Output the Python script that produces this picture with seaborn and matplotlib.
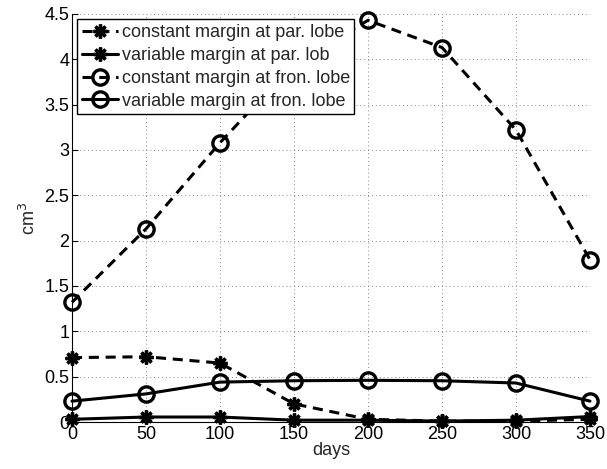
import matplotlib
matplotlib.use("Agg")
import matplotlib.pyplot as plt
import seaborn as sns
import pandas as pd

days = [0, 50, 100, 150, 200, 250, 300, 350]
const_par = [0.71, 0.72, 0.65, 0.20, 0.03, 0.01, 0.01, 0.03]
var_par = [0.03, 0.055, 0.055, 0.02, 0.02, 0.01, 0.02, 0.06]
const_fron = [1.32, 2.13, 3.08, 3.95, 4.43, 4.13, 3.22, 1.79]
var_fron = [0.23, 0.31, 0.44, 0.455, 0.46, 0.455, 0.43, 0.23]
labels = ["constant margin at par. lobe", "variable margin at par. lob",
          "constant margin at fron. lobe", "variable margin at fron. lobe"]
xticks = [0, 50, 100, 150, 200, 250, 300, 350]
yticks = [0, 0.5, 1, 1.5, 2, 2.5, 3, 3.5, 4, 4.5]

sns.set_style("white")
plt.rcParams['font.family'] = ['Liberation Sans', 'DejaVu Sans']

fig = plt.figure(figsize=(6.07, 4.69), dpi=100)
ax = fig.add_axes([0.1186, 0.1002, 0.8534, 0.870])

ast = (8, 2, 0)
specs = [
    (const_par, (0, (3.3, 2.2)), ast, labels[0]),
    (var_par, '-', ast, labels[1]),
    (const_fron, (0, (3.3, 2.2)), 'o', labels[2]),
    (var_fron, '-', 'o', labels[3]),
]
for vals, ls, mk, lab in specs:
    df = pd.DataFrame({"days": days, "v": vals})
    sns.lineplot(data=df, x="days", y="v", ax=ax, color="black", linestyle=ls,
                 linewidth=2.2, marker=mk, markersize=11 if mk == 'o' else 10,
                 markerfacecolor='none' if mk == 'o' else 'black',
                 markeredgecolor='black', markeredgewidth=2.4,
                 label=lab, clip_on=False, zorder=3)

ax.set_xlim(0, 350)
ax.set_ylim(0, 4.5)
ax.set_xticks(xticks)
ax.set_xticklabels([str(t) for t in xticks])
ax.set_yticks(yticks)
ax.set_yticklabels(['0', '0.5', '1', '1.5', '2', '2.5', '3', '3.5', '4', '4.5'])
ax.tick_params(direction='in', length=4, width=0.8, labelsize=13, pad=2,
               colors='black', left=True, bottom=True)
ax.tick_params(axis='x', pad=3)
ax.grid(True, linestyle=(0, (1, 3)), color='#888888', linewidth=0.7)
for s in ['top', 'right']:
    ax.spines[s].set_visible(False)
for s in ['left', 'bottom']:
    ax.spines[s].set_color('black')
    ax.spines[s].set_linewidth(0.8)
ax.set_xlabel("days", fontsize=13, labelpad=-1)
ax.set_ylabel("cm$^3$", fontsize=13, labelpad=4)

leg = ax.legend(loc='upper left', fontsize=13, frameon=True, fancybox=False,
                edgecolor='black', framealpha=1, handlelength=2.0,
                handletextpad=0.2, borderpad=0.25, labelspacing=0.33,
                borderaxespad=0.3)
leg.get_frame().set_linewidth(1.0)

fig.savefig("out.png", dpi=100)
